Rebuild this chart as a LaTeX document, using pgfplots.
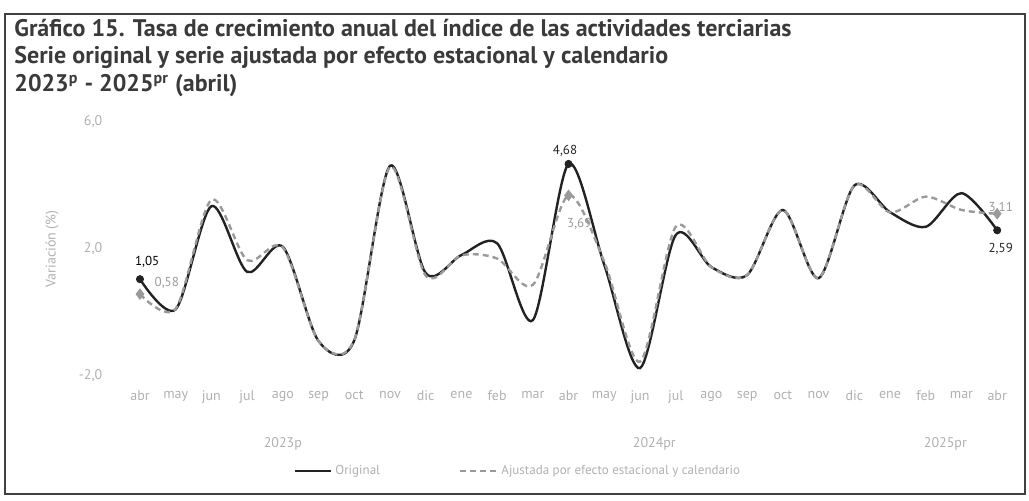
\documentclass[border=0pt]{standalone}
\usepackage{pgfplots}
\pgfplotsset{compat=1.18}
\usepackage{fontspec}
\setmainfont{PT Sans}
\definecolor{ticklbl}{HTML}{B0B0B0}
\definecolor{titlec}{HTML}{3A3A3A}
\definecolor{origc}{HTML}{222222}
\definecolor{adjc}{HTML}{9A9A9A}
\pgfplotstableread{
x y
0 1.05
1 0.10
2 3.35
3 1.28
4 2.07
5 -0.90
6 -0.88
7 4.62
8 1.24
9 1.81
10 2.18
11 -0.24
12 4.68
13 1.50
14 -1.75
15 2.44
16 1.43
17 1.18
18 3.23
19 1.08
20 4.00
21 3.16
22 2.70
23 3.76
24 2.59
}\orig
\pgfplotstableread{
x y
0 0.58
1 0.12
2 3.55
3 1.65
4 2.05
5 -0.90
6 -0.86
7 4.58
8 1.16
9 1.80
10 1.70
11 0.87
12 3.69
13 1.60
14 -1.55
15 2.70
16 1.43
17 1.18
18 3.23
19 1.08
20 4.00
21 3.15
22 3.65
23 3.23
24 3.11
}\adj
\begin{document}
\begin{tikzpicture}[x=0.5pt,y=-0.5pt]
\useasboundingbox (0,0) rectangle (1029,500);
\draw[line width=1.1pt, black!75] (5,14) rectangle (1025,494);
\node[anchor=west, font=\bfseries\fontsize{12}{14}\selectfont, text=titlec, inner sep=0pt] at (14,28) {Gráfico 15. Tasa de crecimiento anual del índice de las actividades terciarias};
\node[anchor=west, font=\bfseries\fontsize{12}{14}\selectfont, text=titlec, inner sep=0pt] at (14,57) {Serie original y serie ajustada por efecto estacional y calendario};
\node[anchor=west, font=\bfseries\fontsize{12}{14}\selectfont, text=titlec, inner sep=0pt] at (14,86) {2023\textsuperscript{p} - 2025\textsuperscript{pr} (abril)};
\node[rotate=90, font=\fontsize{7}{8}\selectfont, text=ticklbl] at (52,249) {Variación (\%)};
\begin{axis}[
  at={(55.7pt,-188pt)}, anchor=south west,
  width=453.6pt, height=127pt, scale only axis,
  xmin=-0.8, xmax=24.6, ymin=-2, ymax=6,
  axis line style={draw=none},
  major tick length=0pt,
  ytick={-2,2,6},
  xtick={0,...,24},
  xticklabels={abr,may,jun,jul,ago,sep,oct,nov,dic,ene,feb,mar,abr,may,jun,jul,ago,sep,oct,nov,dic,ene,feb,mar,abr},
  tick label style={font=\fontsize{7}{8}\selectfont, text=ticklbl},
  xticklabel style={yshift=-4pt},
  yticklabel style={xshift=-1pt},
  /pgf/number format/.cd, fixed, fixed zerofill, precision=1, use comma, assume math mode=true,
  /tikz/.cd,
  clip=false,
]
\addplot[smooth, line width=1.2pt, color=origc] table[x=x,y=y] {\orig};
\addplot[smooth, line width=1.2pt, color=adjc, dash pattern=on 3pt off 2pt] table[x=x,y=y] {\adj};
\addplot[only marks, mark=diamond*, mark size=2.6pt, color=adjc] coordinates {(0,0.58) (12,3.69) (24,3.11)};
\addplot[only marks, mark=*, mark size=1.8pt, color=origc] coordinates {(0,1.05) (12,4.68) (24,2.59)};
\node[font=\fontsize{6.5}{7}\selectfont, text=black] at (axis cs:0.2,1.6) {1,05};
\node[font=\fontsize{6.5}{7}\selectfont, text=adjc] at (axis cs:0.75,0.93) {0,58};
\node[font=\fontsize{6.5}{7}\selectfont, text=black!85] at (axis cs:11.9,5.1) {4,68};
\node[font=\fontsize{6.5}{7}\selectfont, text=adjc] at (axis cs:12.3,2.8) {3,69};
\node[font=\fontsize{6.5}{7}\selectfont, text=adjc] at (axis cs:24.1,3.3) {3,11};
\node[font=\fontsize{6.5}{7}\selectfont, text=black!85] at (axis cs:24.1,2.0) {2,59};
\node[font=\fontsize{7}{8}\selectfont, text=ticklbl] at (axis cs:4.0,-4.15) {2023p};
\node[font=\fontsize{7}{8}\selectfont, text=ticklbl] at (axis cs:14.4,-4.15) {2024pr};
\node[font=\fontsize{7}{8}\selectfont, text=ticklbl] at (axis cs:22.55,-4.15) {2025pr};
\end{axis}
\draw[line width=1.2pt, origc] (295,471) -- (331,471);
\node[anchor=west, font=\fontsize{6.5}{7}\selectfont, text=ticklbl, inner sep=1pt] at (333,471) {Original};
\draw[line width=1.2pt, adjc, dash pattern=on 3pt off 2pt] (460,471) -- (497,471);
\node[anchor=west, font=\fontsize{6.5}{7}\selectfont, text=ticklbl, inner sep=1pt] at (499,471) {Ajustada por efecto estacional y calendario};
\end{tikzpicture}
\end{document}
